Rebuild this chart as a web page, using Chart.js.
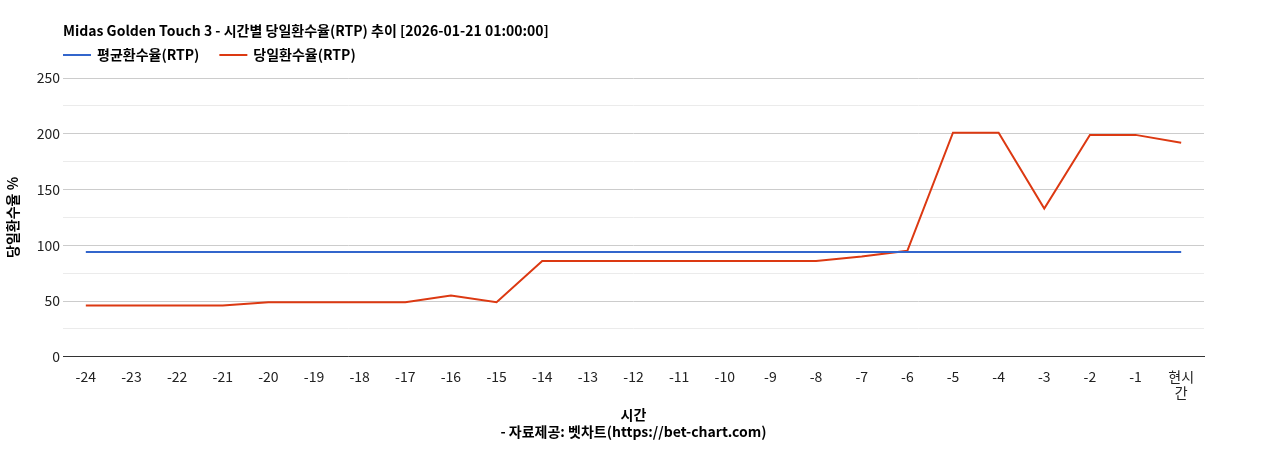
<!DOCTYPE html>
<html><head><meta charset="utf-8">
<script src="https://cdn.jsdelivr.net/npm/chart.js@4"></script>
<style>html,body{margin:0;padding:0;background:#fff}#w{width:1268px;height:450px}</style>
</head><body><div id="w"><canvas id="c"></canvas></div>
<script>
const categories=['-24','-23','-22','-21','-20','-19','-18','-17','-16','-15','-14','-13','-12','-11','-10','-9','-8','-7','-6','-5','-4','-3','-2','-1',['현시','간']];
const avgRtp=[94,94,94,94,94,94,94,94,94,94,94,94,94,94,94,94,94,94,94,94,94,94,94,94,94];
const dayRtp=[46,46,46,46,49,49,49,49,55,49,86,86,86,86,86,86,86,90,95,201,201,133,199,199,192];
const titleText='Midas Golden Touch 3 - 시간별 당일환수율(RTP) 추이 [2026-01-21 01:00:00]';
const F='"Noto Sans CJK KR","Noto Sans",sans-serif';
const header={id:'header',afterDraw(ch){
  const c=ch.ctx,L=ch.chartArea.left;c.save();
  c.fillStyle='#000';c.font='bold 14px '+F;c.textBaseline='middle';c.textAlign='left';
  c.fillText(titleText,L,31);
  let x=L;
  ch.data.datasets.forEach(d=>{
    c.strokeStyle=d.borderColor;c.lineWidth=2;c.beginPath();c.moveTo(x,55);c.lineTo(x+28,55);c.stroke();
    x+=34;c.fillStyle='#000';c.fillText(d.label,x,55);x+=c.measureText(d.label).width+20;
  });
  c.restore();}};
new Chart(document.getElementById('c'),{type:'line',plugins:[header],
data:{labels:categories,datasets:[
{label:'평균환수율(RTP)',data:avgRtp,borderColor:'#3366cc',backgroundColor:'#3366cc',borderWidth:2,pointRadius:0,tension:0},
{label:'당일환수율(RTP)',data:dayRtp,borderColor:'#dc3912',backgroundColor:'#dc3912',borderWidth:2,pointRadius:0,tension:0}]},
options:{responsive:true,maintainAspectRatio:false,animation:false,
layout:{padding:{left:0,right:64,top:78,bottom:6}},
plugins:{title:{display:false},legend:{display:false},tooltip:{enabled:false}},
scales:{x:{offset:true,grid:{display:false},border:{color:'#333'},ticks:{color:'#222',font:{family:F,size:14},maxRotation:0,autoSkip:false},
title:{display:true,text:['시간','- 자료제공: 벳차트(https://bet-chart.com)'],color:'#000',font:{family:F,size:14,weight:'bold'},padding:{top:2}}},
y:{min:0,max:250,afterFit(s){s.width=63},ticks:{stepSize:25,color:'#222',font:{family:F,size:14},callback:v=>v%50===0?v:''},
grid:{color:c=>c.tick&&c.tick.value%50===0?'#cccccc':'#ebebeb',drawTicks:false},border:{display:false},
title:{display:true,text:'당일환수율 %',color:'#000',font:{family:F,size:14,weight:'bold'}}}}}});
</script></body></html>
